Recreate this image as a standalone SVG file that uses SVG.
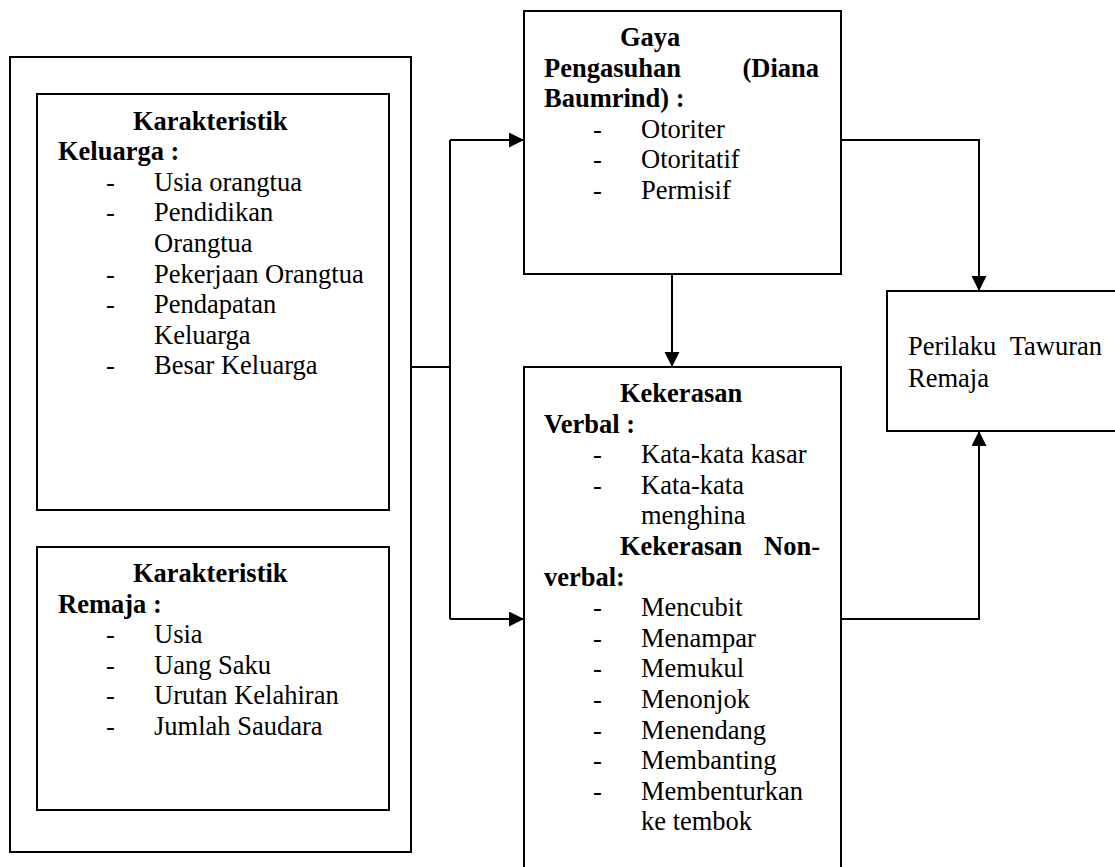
<svg xmlns="http://www.w3.org/2000/svg" width="1115" height="867" viewBox="0 0 1115 867">
<style>
.box{fill:#fff;stroke:#000;stroke-width:2}
.ln{fill:none;stroke:#000;stroke-width:2}
text{font-family:"Liberation Serif","Times New Roman",serif;font-size:26.5px;fill:#000}
.b{font-weight:bold}
</style>
<defs>
<marker id="ah" markerUnits="userSpaceOnUse" markerWidth="16" markerHeight="16" refX="15" refY="7.5" orient="auto">
<path d="M0,0 L15,7.5 L0,15 z" fill="#000"/>
</marker>
</defs>
<rect width="1115" height="867" fill="#fff"/>
<g id="outer">
<rect class="box" x="10" y="57" width="401" height="795"/>
</g>
<g id="keluarga">
<rect class="box" x="37" y="94" width="352" height="416"/>
<text class="b" x="133" y="129.5">Karakteristik</text>
<text class="b" x="58" y="160.1">Keluarga :</text>
<text x="106" y="190.7">-</text><text x="154" y="190.7">Usia orangtua</text>
<text x="106" y="221.3">-</text><text x="154" y="221.3">Pendidikan</text>
<text x="154" y="251.9">Orangtua</text>
<text x="106" y="282.5">-</text><text x="154" y="282.5">Pekerjaan Orangtua</text>
<text x="106" y="313.1">-</text><text x="154" y="313.1">Pendapatan</text>
<text x="154" y="343.7">Keluarga</text>
<text x="106" y="374.3">-</text><text x="154" y="374.3">Besar Keluarga</text>
</g>
<g id="remaja">
<rect class="box" x="37" y="547" width="352" height="263"/>
<text class="b" x="133" y="582">Karakteristik</text>
<text class="b" x="58" y="612.6">Remaja :</text>
<text x="106" y="643.2">-</text><text x="154" y="643.2">Usia</text>
<text x="106" y="673.8">-</text><text x="154" y="673.8">Uang Saku</text>
<text x="106" y="704.4">-</text><text x="154" y="704.4">Urutan Kelahiran</text>
<text x="106" y="735">-</text><text x="154" y="735">Jumlah Saudara</text>
</g>
<g id="gaya">
<rect class="box" x="524" y="11" width="317" height="263"/>
<text class="b" x="620" y="45.5">Gaya</text>
<text class="b" x="544" y="76.5">Pengasuhan</text>
<text class="b" x="819" y="76.5" text-anchor="end">(Diana</text>
<text class="b" x="544" y="107">Baumrind) :</text>
<text x="593" y="137.5">-</text><text x="641" y="137.5">Otoriter</text>
<text x="593" y="168">-</text><text x="641" y="168">Otoritatif</text>
<text x="593" y="198.5">-</text><text x="641" y="198.5">Permisif</text>
</g>
<g id="kekerasan">
<rect class="box" x="524" y="367" width="317" height="540"/>
<text class="b" x="620" y="402">Kekerasan</text>
<text class="b" x="544" y="432.6">Verbal :</text>
<text x="593" y="463.2">-</text><text x="641" y="463.2">Kata-kata kasar</text>
<text x="593" y="493.8">-</text><text x="641" y="493.8">Kata-kata</text>
<text x="641" y="524.4">menghina</text>
<text class="b" x="620" y="555">Kekerasan</text>
<text class="b" x="820" y="555" text-anchor="end">Non-</text>
<text class="b" x="544" y="585.6">verbal:</text>
<text x="593" y="616.2">-</text><text x="641" y="616.2">Mencubit</text>
<text x="593" y="646.8">-</text><text x="641" y="646.8">Menampar</text>
<text x="593" y="677.4">-</text><text x="641" y="677.4">Memukul</text>
<text x="593" y="708">-</text><text x="641" y="708">Menonjok</text>
<text x="593" y="738.6">-</text><text x="641" y="738.6">Menendang</text>
<text x="593" y="769.2">-</text><text x="641" y="769.2">Membanting</text>
<text x="593" y="799.8">-</text><text x="641" y="799.8">Membenturkan</text>
<text x="641" y="830.4">ke tembok</text>
</g>
<g id="perilaku">
<rect class="box" x="887" y="291" width="260" height="140"/>
<text x="908" y="355">Perilaku</text>
<text x="1102" y="355" text-anchor="end">Tawuran</text>
<text x="908" y="386.5">Remaja</text>
</g>
<g id="connectors">
<polyline class="ln" points="411,367 450,367"/>
<polyline class="ln" points="450,140 450,619"/>
<polyline class="ln" points="450,140 524,140" marker-end="url(#ah)"/>
<polyline class="ln" points="450,619 524,619" marker-end="url(#ah)"/>
<polyline class="ln" points="672,274 672,367" marker-end="url(#ah)"/>
<polyline class="ln" points="841,140 979,140 979,291" marker-end="url(#ah)"/>
<polyline class="ln" points="841,619 979,619 979,431" marker-end="url(#ah)"/>
</g>
</svg>
